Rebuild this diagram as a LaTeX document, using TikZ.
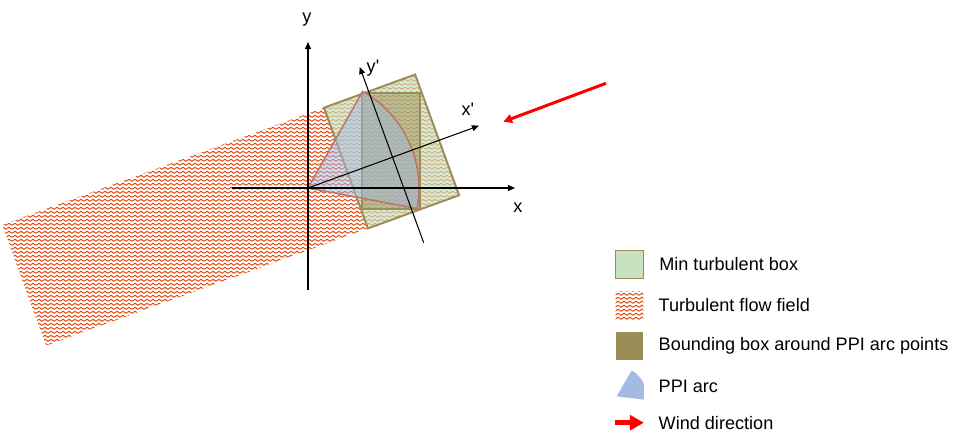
\documentclass[tikz,border=0pt]{standalone}
\usepackage{fontspec}
\setmainfont{Liberation Sans}
\usetikzlibrary{arrows.meta,patterns,positioning}
\definecolor{fieldorange}{HTML}{E04A10}
\definecolor{boxgreen}{HTML}{C6E2BF}
\definecolor{boxolive}{HTML}{9C8C58}
\definecolor{bbolive}{HTML}{9A8D55}
\definecolor{arcblue}{HTML}{A3BAE2}
\definecolor{arcred}{HTML}{C07068}
\pgfdeclarepatternformonly{zigzag}{\pgfqpoint{0pt}{0pt}}{\pgfqpoint{3.4pt}{2.45pt}}{\pgfqpoint{3.4pt}{2.45pt}}{
	\pgfsetlinewidth{0.62pt}
	\pgfpathmoveto{\pgfqpoint{0pt}{0.45pt}}
	\pgfpathlineto{\pgfqpoint{1.7pt}{1.8pt}}
	\pgfpathlineto{\pgfqpoint{3.4pt}{0.45pt}}
	\pgfusepath{stroke}
}
\tikzset{
	axis/.style={-{Triangle[length=4pt,width=3.4pt]},line width=0.6pt},
	field/.style={pattern=zigzag,pattern color=fieldorange},
	minbox/.style={fill=boxgreen,fill opacity=0.68,draw=boxolive,line width=1.1pt},
	arcbox/.style={fill=bbolive,fill opacity=0.5,draw=bbolive,line width=1.1pt},
	ppiarc/.style={fill=arcblue,fill opacity=0.5,draw=arcred,line width=0.8pt},
	wind/.style={red,line width=1.7pt,-{Triangle[length=5pt,width=5pt]}},
	windleg/.style={red,line width=2.8pt,-{Triangle[length=8pt,width=8.5pt]}},
	legsym/.style={minimum size=0.56cm,inner sep=0},
	legtext/.style={inner sep=0}
}
\begin{document}
	\begin{tikzpicture}[x=0.02cm,y=0.02cm,font=\fontsize{10.3}{12}\selectfont]
		\useasboundingbox (-308,-256) rectangle (650,188);
		\coordinate (O) at (0,0);
		\begin{scope}[rotate=20]
			\path[field] (-300,-58.5) rectangle (139.5,70);
			\draw[minbox] (42.5,-58.5) rectangle (139.5,70);
		\end{scope}
		\draw[arcbox] (54,-21) rectangle (112,95);
		\draw[ppiarc] (O) -- (-10.7:111) arc[start angle=-10.7,end angle=60.5,radius=111] -- cycle;
		\coordinate (xa) at (-76,0);
		\coordinate (xb) at (207,0);
		\coordinate (ya) at (0,-102);
		\coordinate (yb) at (0,146);
		\draw[axis] (xa) -- (xb);
		\draw[axis] (ya) -- (yb);
		\node (xlab) at (210,-20) {x};
		\node (ylab) at (-1,168) {y};
		\begin{scope}[rotate=20]
			\coordinate (xpb) at (182,0);
			\coordinate (ypa) at (90,-91);
			\coordinate (ypb) at (90,96);
			\draw[axis] (O) -- (xpb);
			\draw[axis] (ypa) -- (ypb);
			\node (xplab) at (177,19) {x\textquotesingle};
		\end{scope}
		\node (yplab) at (65,120) {y\textquotesingle};
		\coordinate (wa) at (298,104.7);
		\coordinate (wb) at (195.3,66.3);
		\draw[wind] (wa) -- (wb);
		\node[legsym,minbox,fill opacity=1] (msym) at (321.5,-76.5) {};
		\node[legtext,right=0.29cm of msym] (mtext) {Min turbulent box};
		\node[legsym,field] (fsym) at (321.5,-117.5) {};
		\node[legtext,right=0.29cm of fsym] (ftext) {Turbulent flow field};
		\node[legsym,fill=bbolive] (bsym) at (321.5,-158) {};
		\node[legtext,right=0.29cm of bsym] (btext) {Bounding box around PPI arc points};
		\node[legsym] (psym) at (321.5,-198) {};
		\begin{scope}
			\clip (psym.south west) rectangle (psym.north east);
			\fill[arcblue] ([shift={(1.5,4)}]psym.south west) -- ++(-7:30) arc[start angle=-7,end angle=60,radius=30] -- cycle;
		\end{scope}
		\node[legtext,right=0.29cm of psym] (ptext) {PPI arc};
		\node[legsym] (wsym) at (321.5,-234.7) {};
		\draw[windleg] (wsym.west) -- (wsym.east);
		\node[legtext,right=0.29cm of wsym] (wtext) {Wind direction};
	\end{tikzpicture}
\end{document}
